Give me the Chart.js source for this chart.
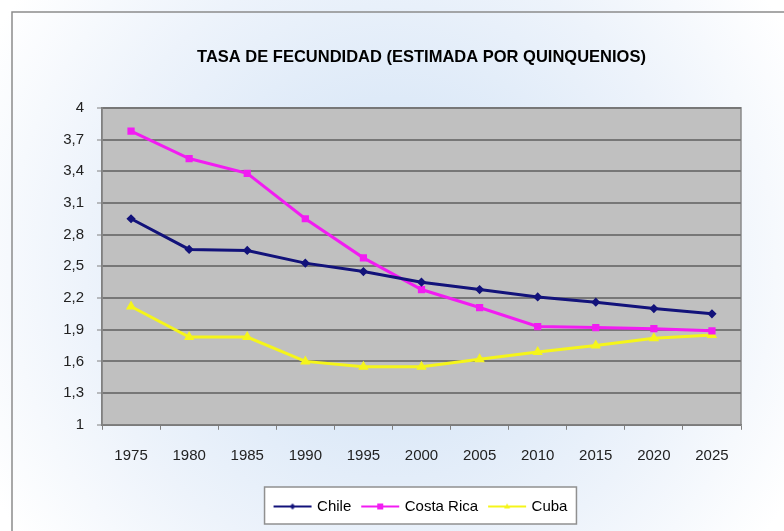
<!DOCTYPE html>
<html lang="es">
<head>
    <meta charset="UTF-8">
    <title>Tasa de fecundidad</title>
    <script src="https://cdn.jsdelivr.net/npm/chart.js"></script>
    <style>
        body {
            margin: 0;
            background: #ffffff;
        }
        .chart-box {
            width: 784px;
            height: 531px;
        }
    </style>
</head>
<body>
    <div class="chart-box">
        <canvas id="fecundidad"></canvas>
    </div>
    <script>
        // Datos
        var years = ['1975', '1980', '1985', '1990', '1995', '2000', '2005', '2010', '2015', '2020', '2025'];
        var chile = [2.95, 2.66, 2.65, 2.53, 2.45, 2.35, 2.28, 2.21, 2.16, 2.10, 2.05];
        var costaRica = [3.78, 3.52, 3.38, 2.95, 2.58, 2.28, 2.11, 1.93, 1.92, 1.91, 1.89];
        var cuba = [2.12, 1.83, 1.83, 1.60, 1.55, 1.55, 1.62, 1.69, 1.75, 1.82, 1.85];
        var yTicks = [1, 1.3, 1.6, 1.9, 2.2, 2.5, 2.8, 3.1, 3.4, 3.7, 4];
        var yTickLabels = ['1', '1,3', '1,6', '1,9', '2,2', '2,5', '2,8', '3,1', '3,4', '3,7', '4'];

        // muestra de linea + marcador para la leyenda
        function legendSample(color, shape) {
            var c = document.createElement('canvas');
            c.width = 40;
            c.height = 10;
            var g = c.getContext('2d');
            g.strokeStyle = color;
            g.fillStyle = color;
            g.lineWidth = 2;
            g.beginPath();
            g.moveTo(1, 5);
            g.lineTo(39, 5);
            g.stroke();
            g.beginPath();
            if (shape === 'diamond') {
                g.moveTo(20, 2); g.lineTo(23, 5); g.lineTo(20, 8); g.lineTo(17, 5);
            } else if (shape === 'square') {
                g.rect(17, 2, 6, 6);
            } else {
                g.moveTo(20, 2); g.lineTo(23, 7); g.lineTo(17, 7);
            }
            g.closePath();
            g.fill();
            return c;
        }

        // fondo, marco, area gris y caja de leyenda
        var decor = {
            id: 'decor',
            beforeDraw: function (chart) {
                var ctx = chart.ctx;
                var w = chart.width, h = chart.height;
                ctx.save();
                var grad = ctx.createRadialGradient(w / 2, h / 2, 120, w / 2, h / 2, 460);
                grad.addColorStop(0, '#d9e7f7');
                grad.addColorStop(0.55, '#edf3fb');
                grad.addColorStop(1, '#ffffff');
                ctx.fillStyle = grad;
                ctx.fillRect(0, 0, w, h);

                ctx.strokeStyle = '#8c8c8c';
                ctx.lineWidth = 1.5;
                ctx.beginPath();
                ctx.moveTo(12, h);
                ctx.lineTo(12, 12);
                ctx.lineTo(w, 12);
                ctx.stroke();

                var a = chart.chartArea;
                ctx.fillStyle = '#c0c0c0';
                ctx.fillRect(a.left, a.top, a.right - a.left, a.bottom - a.top);
                ctx.strokeStyle = '#8a8a8a';
                ctx.lineWidth = 1.5;
                ctx.strokeRect(a.left, a.top, a.right - a.left, a.bottom - a.top);

                var lg = chart.legend;
                var hb = lg.legendHitBoxes;
                if (hb && hb.length) {
                    var last = hb[hb.length - 1];
                    var x0 = hb[0].left - 11;
                    var x1 = last.left + last.width + 9;
                    ctx.fillStyle = '#ffffff';
                    ctx.fillRect(x0, lg.top, x1 - x0, lg.bottom - lg.top);
                    ctx.strokeStyle = '#909090';
                    ctx.lineWidth = 1.5;
                    ctx.strokeRect(x0, lg.top, x1 - x0, lg.bottom - lg.top);
                }
                ctx.restore();
            }
        };

        var data = {
            labels: years,
            datasets: [{
                label: 'Chile',
                data: chile,
                borderColor: '#12127a',
                backgroundColor: '#12127a',
                borderWidth: 3,
                pointStyle: 'rectRot',
                pointRadius: 2.5,
                sample: legendSample('#12127a', 'diamond')
            }, {
                label: 'Costa Rica',
                data: costaRica,
                borderColor: '#f21cf2',
                backgroundColor: '#f21cf2',
                borderWidth: 3,
                pointStyle: 'rect',
                pointRadius: 3,
                sample: legendSample('#f21cf2', 'square')
            }, {
                label: 'Cuba',
                data: cuba,
                borderColor: '#f5f51a',
                backgroundColor: '#f5f51a',
                borderWidth: 3,
                pointStyle: 'triangle',
                pointRadius: 3,
                sample: legendSample('#f5f51a', 'triangle')
            }]
        };

        var options = {
            responsive: true,
            maintainAspectRatio: false,
            animation: false,
            layout: {
                padding: { left: 42, right: 43, top: 0, bottom: 7 }
            },
            plugins: {
                title: {
                    display: true,
                    fullSize: false,
                    text: 'TASA DE FECUNDIDAD (ESTIMADA POR QUINQUENIOS)',
                    color: '#000000',
                    font: { family: 'Liberation Sans, Arial, sans-serif', size: 16.5, weight: 'bold' },
                    padding: { top: 48, bottom: 40 }
                },
                legend: {
                    position: 'bottom',
                    fullSize: false,
                    labels: {
                        usePointStyle: true,
                        pointStyleWidth: 34,
                        padding: 12,
                        color: '#111111',
                        font: { family: 'Liberation Sans, Arial, sans-serif', size: 15 },
                        generateLabels: function (chart) {
                            return chart.data.datasets.map(function (ds, i) {
                                return {
                                    text: ds.label,
                                    pointStyle: ds.sample,
                                    fillStyle: ds.borderColor,
                                    strokeStyle: ds.borderColor,
                                    lineWidth: 0,
                                    hidden: false,
                                    datasetIndex: i
                                };
                            });
                        }
                    }
                },
                tooltip: { enabled: false }
            },
            scales: {
                x: {
                    offset: true,
                    grid: {
                        offset: true,
                        drawOnChartArea: false,
                        tickLength: 5,
                        tickColor: '#808080'
                    },
                    border: { display: true, color: '#808080', width: 1.5 },
                    ticks: {
                        color: '#222222',
                        padding: 17,
                        maxRotation: 0,
                        font: { family: 'Liberation Sans, Arial, sans-serif', size: 15 }
                    },
                    // titulo vacio: solo deja espacio antes de la leyenda
                    title: {
                        display: true,
                        text: '',
                        font: { size: 1 },
                        padding: { top: 4, bottom: 0 }
                    }
                },
                y: {
                    min: 1,
                    max: 4,
                    afterBuildTicks: function (axis) {
                        axis.ticks = yTicks.map(function (v) { return { value: v }; });
                    },
                    afterFit: function (axis) {
                        axis.width = 60;
                    },
                    grid: {
                        color: '#777777',
                        lineWidth: 2,
                        tickLength: 5,
                        tickColor: '#808080',
                        tickWidth: 1
                    },
                    border: { display: true, color: '#808080', width: 1.5 },
                    ticks: {
                        color: '#222222',
                        padding: 13,
                        font: { family: 'Liberation Sans, Arial, sans-serif', size: 15 },
                        callback: function (value, index) {
                            return yTickLabels[index];
                        }
                    }
                }
            }
        };

        var ctx = document.getElementById('fecundidad').getContext('2d');
        new Chart(ctx, {
            type: 'line',
            data: data,
            options: options,
            plugins: [decor]
        });
    </script>
</body>
</html>
